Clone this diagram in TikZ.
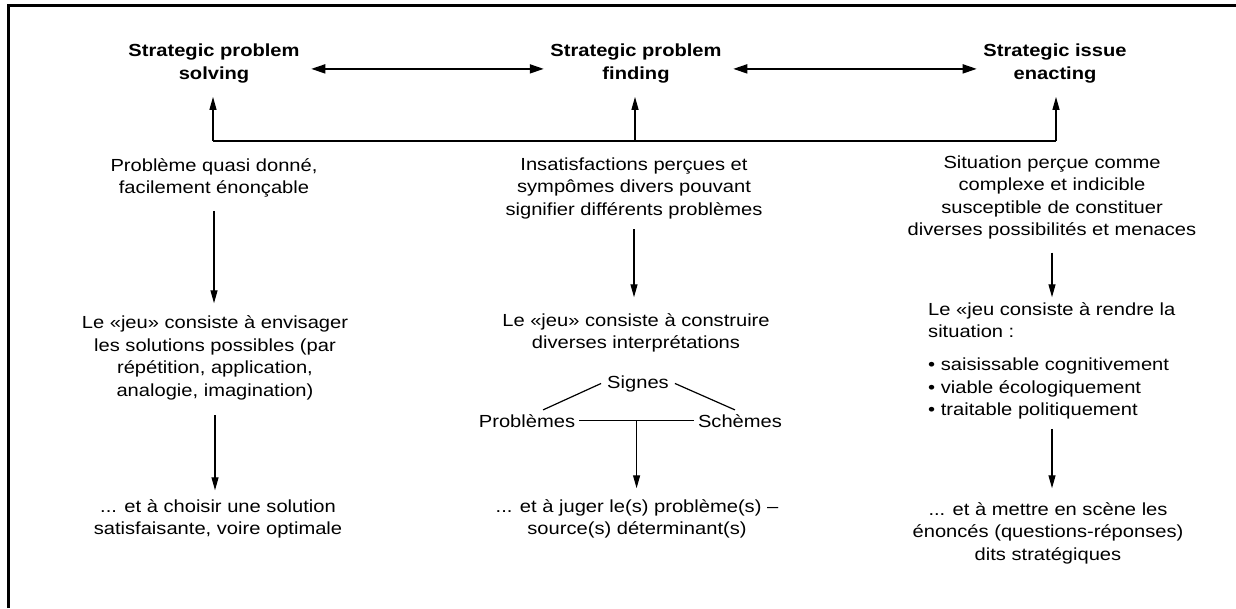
\documentclass[tikz,border=0pt]{standalone}
\usepackage{fontspec}
\setmainfont{Liberation Sans}[FakeStretch=1.15]
\usetikzlibrary{arrows.meta}
\begin{document}
\begin{tikzpicture}[x=1pt,y=-1pt,
  txt/.style={inner sep=0pt, align=center, anchor=north,
    font=\fontsize{17.5}{22.5}\selectfont, execute at begin node=\strut},
  ttl/.style={inner sep=0pt, align=center, anchor=north,
    font=\fontsize{17.5}{23}\selectfont\bfseries, execute at begin node=\strut},
  lbl/.style={inner sep=4pt, anchor=base, font=\fontsize{17.5}{22.5}\selectfont},
  arr/.style={line width=1.2pt, -{Triangle[length=13pt,width=7pt]}},
  dbl/.style={line width=1.8pt, {Triangle[length=14pt,width=9pt]}-{Triangle[length=14pt,width=9pt]}},
  link/.style={line width=1.2pt}
]
\useasboundingbox (0,0) rectangle (1236,608);
% open frame: top and left edges
\draw[line width=3pt] (8.5,608) -- (8.5,5.5) -- (1236,5.5);

% the three strategic modes
\node[ttl] (t1) at (214,43.9) {Strategic problem\\solving};
\node[ttl] (t2) at (636,43.9) {Strategic problem\\finding};
\node[ttl] (t3) at (1055,43.9) {Strategic issue\\enacting};

\draw[dbl, shorten <=11.5pt, shorten >=6.5pt] ([yshift=-3.5pt]t1.east) -- ([yshift=-3.5pt]t2.west);
\draw[dbl, shorten <=11.5pt, shorten >=6.5pt] ([yshift=-3.5pt]t2.east) -- ([yshift=-3.5pt]t3.west);

% feedback line under the titles
\coordinate (fl) at (213,141);
\coordinate (fm) at (635,141);
\coordinate (fr) at (1056,141);
\draw[line width=1.4pt] (fl) -- (fr);
\draw[arr, shorten >=10pt] (fl) -- (fl |- t1.south);
\draw[arr, shorten >=10pt] (fm) -- (fm |- t2.south);
\draw[arr, shorten >=10pt] (fr) -- (fr |- t3.south);

% first column
\node[txt] (a1) at (214,158.25) {Problème quasi donné,\\facilement énonçable};
\node[txt, font=\fontsize{17.5}{22.7}\selectfont] (a2) at (215,315.25)
  {Le «jeu» consiste à envisager\\les solutions possibles (par\\répétition, application,\\analogie, imagination)};
\node[txt] (a3) at (218,499.25) {... et à choisir une solution\\satisfaisante, voire optimale};
\draw[arr, shorten <=10pt, shorten >=12pt] (a1.south) -- (a1.south |- a2.north);
\draw[arr, shorten <=12pt, shorten >=9pt] (a2.south) -- (a2.south |- a3.north);

% second column
\node[txt] (b1) at (634,157.25) {Insatisfactions perçues et\\sympômes divers pouvant\\signifier différents problèmes};
\node[txt] (b2) at (636,313.25) {Le «jeu» consiste à construire\\diverses interprétations};
\node[lbl, inner sep=6pt] (sg) at (638,388) {Signes};
\node[lbl] (pb) at (527,427) {Problèmes};
\node[lbl] (sc) at (740,427) {Schèmes};
\node[txt] (b3) at (637,499.25) {... et à juger le(s) problème(s) –\\source(s) déterminant(s)};
\draw[arr, shorten <=7pt, shorten >=16pt] (b1.south) -- (b1.south |- b2.north);
\draw[link] (sg.west) -- ([xshift=16pt]pb.north);
\draw[link] (sg.east) -- ([xshift=-5pt]sc.north);
\draw[link] (pb.east) -- coordinate[midway] (jm) (sc.west);
\draw[arr, shorten >=11pt] (jm) -- (jm |- b3.north);

% third column
\node[txt] (c1) at (1052,155.25) {Situation perçue comme\\complexe et indicible\\susceptible de constituer\\diverses possibilités et menaces};
\node[txt, align=left, anchor=north west] (c2) at (928,302.25)
  {Le «jeu consiste à rendre la\\situation :\\[10.5pt]• saisissable cognitivement\\• viable écologiquement\\• traitable politiquement};
\node[txt] (c3) at (1048,502.25) {... et à mettre en scène les\\énoncés (questions-réponses)\\dits stratégiques};
\draw[arr, shorten <=10pt, shorten >=5pt] (c1.south) -- (c1.south |- c2.north);
\draw[arr, shorten <=6pt, shorten >=14pt] (c2.south -| c1.south) -- (c1.south |- c3.north);
\end{tikzpicture}
\end{document}
